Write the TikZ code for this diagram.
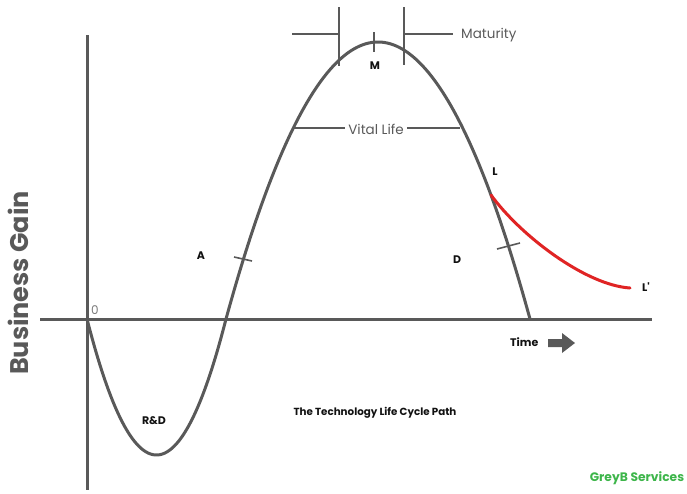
\documentclass[tikz,border=0pt]{standalone}
\usepackage{fontspec}
\setmainfont{Poppins}
\definecolor{lc}{HTML}{595959}
\definecolor{rc}{HTML}{E02424}
\definecolor{gc}{HTML}{3DB54A}
\definecolor{tc}{HTML}{111111}
\begin{document}
\begin{tikzpicture}[x=1pt,y=-1pt,
  axis/.style={draw=lc,line width=3pt},
  curve/.style={draw=lc,line width=3pt},
  thin/.style={draw=lc,line width=1.6pt},
  lab/.style={font=\bfseries\fontsize{11}{13}\selectfont,text=tc,inner sep=0pt},
  reg/.style={font=\fontsize{13.5}{15}\selectfont,text=lc,inner sep=0pt}]
\useasboundingbox (0,0) rectangle (687,493);
% axes
\coordinate (ytop) at (87,35);
\coordinate (ybot) at (87,490);
\coordinate (xl) at (40,319);
\coordinate (xr) at (652,319);
\draw[axis] (ytop) -- (ybot);
\draw[axis] (xl) -- (xr);
% curve
\draw[curve,line join=round] plot[domain=87:226,samples=60] (\x,{319+136*(1-((\x-156.5)/69.5)^2)})
  -- plot[domain=226:530,samples=120] (\x,{319-277*(1-((\x-378)/152)^2)});
% red branch
\coordinate (Lp) at (491,195);
\coordinate (Lend) at (630,288);
\draw[draw=rc,line width=3pt,line cap=round] (Lp) .. controls (520,235) and (585,285) .. (Lend);
% ticks
\coordinate (a1) at (234,257); \coordinate (a2) at (252,261);
\draw[thin] (a1) -- (a2);
\coordinate (d1) at (497,249); \coordinate (d2) at (520,243);
\draw[thin] (d1) -- (d2);
\coordinate (m1) at (374,32); \coordinate (m2) at (374,52);
\draw[thin] (m1) -- (m2);
% maturity brackets
\coordinate (b1t) at (339,7); \coordinate (b1b) at (339,66);
\coordinate (b2t) at (404,7); \coordinate (b2b) at (404,65);
\coordinate (h1) at (292,34); \coordinate (h1e) at (339,34);
\coordinate (h2) at (404,34); \coordinate (h2e) at (453,34);
\draw[thin] (b1t) -- (b1b);
\draw[thin] (b2t) -- (b2b);
\draw[thin] (h1) -- (h1e);
\draw[thin] (h2) -- (h2e);
\node[reg,anchor=west] (mat) at (461,35) {Maturity};
% vital life
\node[reg] (vl) at (376,129) {Vital Life};
\coordinate (v1) at (292,128); \coordinate (v2) at (460,128);
\draw[thin] (v1) -- ([xshift=-3pt]vl.west |- v1);
\draw[thin] ([xshift=3pt]vl.east |- v2) -- (v2);
% labels
\node[lab] (M) at (375,66) {M};
\node[lab] (A) at (201,256) {A};
\node[lab] (D) at (457,260) {D};
\node[lab] (L) at (495,172) {L};
\node[lab] (L2) at (646,287) {L\textquotesingle};
\node[lab] (RD) at (154,421) {R\&D};
\node[font=\bfseries\fontsize{10.3}{12}\selectfont,text=tc,inner sep=0pt] (title) at (375,413) {The Technology Life Cycle Path};
\node[lab,anchor=west] (time) at (510,342) {Time};
\node[font=\fontsize{12}{14}\selectfont,text=lc!80,inner sep=0pt] (zero) at (95,310) {0};
\node[font=\bfseries\fontsize{12.3}{14}\selectfont,text=gc,inner sep=0pt] (greyb) at (637,478) {GreyB Services};
\node[font=\bfseries\fontsize{25.5}{28}\selectfont,text=lc,rotate=90,inner sep=0pt] (bg) at (18,283) {Business Gain};
% time arrow
\fill[lc] (548,339) -- (562,339) -- (562,333) -- (575,343) -- (562,353) -- (562,347) -- (548,347) -- cycle;
\end{tikzpicture}
\end{document}
